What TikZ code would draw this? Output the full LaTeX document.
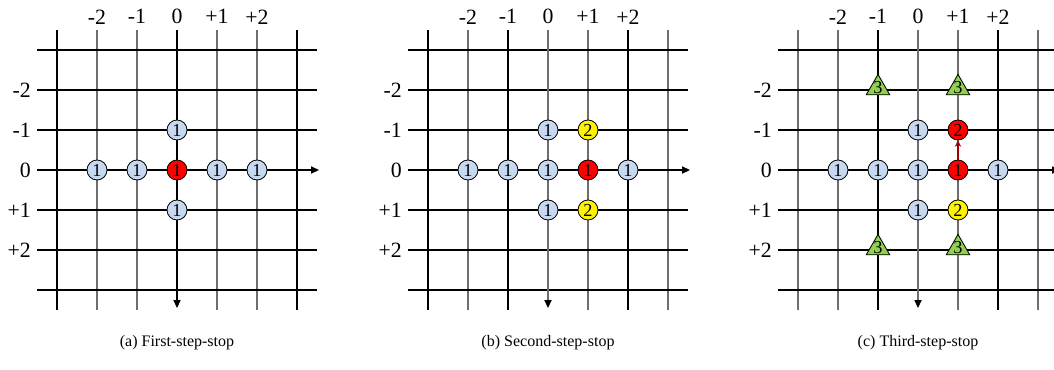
\documentclass[tikz,border=0pt]{standalone}
\usepackage{fontspec}
\setmainfont{Liberation Serif}
\usetikzlibrary{arrows.meta, shapes.geometric}
\definecolor{cellblue}{RGB}{198,217,241}
\definecolor{stepgreen}{RGB}{146,208,80}
\definecolor{gridgray}{RGB}{110,110,110}
\definecolor{darkred}{RGB}{160,0,0}

\begin{document}
\begin{tikzpicture}[x=1cm, y=-1cm,
        font=\fontsize{11.4}{14}\selectfont,
        gridline/.style={line width=0.75pt},
        axis/.style={line width=0.75pt, -{Triangle[length=2mm, width=1.8mm, color=black]}},
        first/.style={circle, draw, line width=0.6pt, fill=cellblue, minimum size=0.5cm, inner sep=0pt, font=\fontsize{13}{14}\selectfont},
        hit/.style={first, fill=red},
        second/.style={first, fill=yellow},
        third/.style={regular polygon, regular polygon sides=3, draw, line width=0.6pt, fill=stepgreen, minimum size=0.68cm, inner sep=0pt},
        thirdlbl/.style={label={[inner sep=0pt, font=\fontsize{13}{14}\selectfont]center:#1}},
        lbl/.style={inner sep=0pt, font=\fontsize{15.5}{16}\selectfont},
        moveto/.style={-{Stealth[length=1.6mm, width=1.6mm]}, line width=1.1pt, darkred}
    ]
    \useasboundingbox (0,0) rectangle (26.35,9.225);

    % (a) first step
    \begin{scope}[shift={(4.425,4.25)}]
    \foreach \c/\col in {-3/black,-2/gridgray,-1/gridgray,1/gridgray,2/gridgray,3/black}
        \draw[gridline, \col] (\c,-3.5) -- (\c,3.5);
    \foreach \r in {-3,-2,-1,1,2,3}
        \draw[gridline] (-3.5,\r) -- (3.5,\r);
    \draw[axis] (-3.5,0) -- (3.55,0);
    \draw[axis, black] (0,-3.5) -- (0,3.45);
    \foreach \c/\t in {-2/-2,-1/-1,0/0,1/+1,2/+2}
        \node[lbl] (a-col\c) at (\c,-3.83) {\t};
    \foreach \r/\t in {-2/-2,-1/-1,0/0,1/+1,2/+2}
        \node[lbl, anchor=east] (a-row\r) at (-3.65,\r) {\t};

    \node[hit] (a-ctr) at (0,0) {1};
    \node[first] (a-up) at (0,-1) {1};
    \node[first] (a-dn) at (0,1) {1};
    \node[first] (a-l1) at (-1,0) {1};
    \node[first] (a-l2) at (-2,0) {1};
    \node[first] (a-r1) at (1,0) {1};
    \node[first] (a-r2) at (2,0) {1};

    \node (a-cap) at (0,4.325) {(a) First-step-stop};
    \end{scope}

    % (b) second step
    \begin{scope}[shift={(13.7,4.25)}]
    \foreach \c/\col in {-3/black,-2/gridgray,-1/black,1/gridgray,2/black,3/gridgray}
        \draw[gridline, \col] (\c,-3.5) -- (\c,3.5);
    \foreach \r in {-3,-2,-1,1,2,3}
        \draw[gridline] (-3.5,\r) -- (3.5,\r);
    \draw[axis] (-3.5,0) -- (3.55,0);
    \draw[axis, gridgray] (0,-3.5) -- (0,3.45);
    \foreach \c/\t in {-2/-2,-1/-1,0/0,1/+1,2/+2}
        \node[lbl] (b-col\c) at (\c,-3.83) {\t};
    \foreach \r/\t in {-2/-2,-1/-1,0/0,1/+1,2/+2}
        \node[lbl, anchor=east] (b-row\r) at (-3.65,\r) {\t};

    \node[first] (b-ctr) at (0,0) {1};
    \node[first] (b-up) at (0,-1) {1};
    \node[first] (b-dn) at (0,1) {1};
    \node[first] (b-l1) at (-1,0) {1};
    \node[first] (b-l2) at (-2,0) {1};
    \node[hit] (b-r1) at (1,0) {1};
    \node[first] (b-r2) at (2,0) {1};
    \node[second] (b-n2) at (1,-1) {2};
    \node[second] (b-s2) at (1,1) {2};

    \node (b-cap) at (0,4.325) {(b) Second-step-stop};
    \end{scope}

    % (c) third step
    \begin{scope}[shift={(22.95,4.25)}]
    \foreach \c/\col in {-3/gridgray,-2/gridgray,-1/black,1/gridgray,2/black,3/gridgray}
        \draw[gridline, \col] (\c,-3.5) -- (\c,3.5);
    \foreach \r in {-3,-2,-1,1,2,3}
        \draw[gridline] (-3.5,\r) -- (3.5,\r);
    \draw[axis] (-3.5,0) -- (3.55,0);
    \draw[axis, gridgray] (0,-3.5) -- (0,3.45);
    \foreach \c/\t in {-2/-2,-1/-1,0/0,1/+1,2/+2}
        \node[lbl] (c-col\c) at (\c,-3.83) {\t};
    \foreach \r/\t in {-2/-2,-1/-1,0/0,1/+1,2/+2}
        \node[lbl, anchor=east] (c-row\r) at (-3.65,\r) {\t};

    \node[first] (c-ctr) at (0,0) {1};
    \node[first] (c-up) at (0,-1) {1};
    \node[first] (c-dn) at (0,1) {1};
    \node[first] (c-l1) at (-1,0) {1};
    \node[first] (c-l2) at (-2,0) {1};
    \node[hit] (c-r1) at (1,0) {1};
    \node[first] (c-r2) at (2,0) {1};
    \node[hit] (c-n2) at (1,-1) {2};
    \node[second] (c-s2) at (1,1) {2};
    \node[third, thirdlbl=3] (c-nw3) at (-1,-2.05) {};
    \node[third, thirdlbl=3] (c-ne3) at (1,-2.05) {};
    \node[third, thirdlbl=3] (c-sw3) at (-1,1.95) {};
    \node[third, thirdlbl=3] (c-se3) at (1,1.95) {};

    % move to the next stop
    \draw[moveto] (c-r1) -- (c-n2);

    \node (c-cap) at (0,4.325) {(c) Third-step-stop};
    \end{scope}

\end{tikzpicture}
\end{document}
